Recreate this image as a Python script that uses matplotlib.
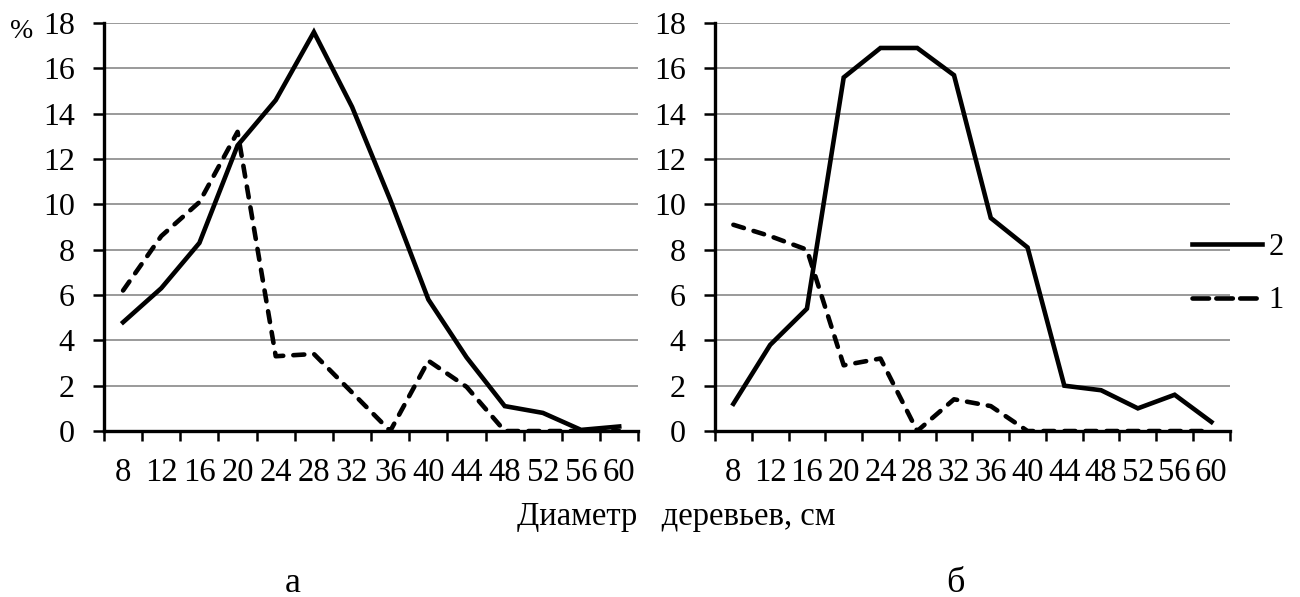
import numpy as np
import matplotlib.pyplot as plt
from matplotlib.lines import Line2D

plt.rcParams['font.family'] = 'serif'
plt.rcParams['font.serif'] = ['Liberation Serif', 'DejaVu Serif']
plt.rcParams['axes.linewidth'] = 2.4

# tree diameter classes, cm
diameters = [8, 12, 16, 20, 24, 28, 32, 36, 40, 44, 48, 52, 56, 60]

# panel a
a_line2 = [4.8, 6.3, 8.3, 12.6, 14.6, 17.6, 14.3, 10.2, 5.8, 3.25, 1.1, 0.8, 0.05, 0.2]
a_line1 = [6.2, 8.6, 10.1, 13.2, 3.3, 3.4, 1.7, 0.0, 3.1, 1.95, 0.0, 0.0, 0.0, 0.0]

# panel б
b_line2 = [1.2, 3.8, 5.4, 15.6, 16.9, 16.9, 15.7, 9.4, 8.1, 2.0, 1.8, 1.0, 1.6, 0.4]
b_line1 = [9.1, 8.6, 8.0, 2.9, 3.2, 0.0, 1.4, 1.1, 0.0, 0.0, 0.0, 0.0, 0.0, 0.0]

y_ticks = [0, 2, 4, 6, 8, 10, 12, 14, 16, 18]

fig = plt.figure(figsize=(13, 5.97), dpi=100)
ax_a = fig.add_axes([0.080, 0.278, 0.411, 0.6834])
ax_b = fig.add_axes([0.550, 0.278, 0.396, 0.6834])

x = np.arange(len(diameters))
lw = 3.3
dash = (2.4, 2.2)

for ax, s2, s1 in [(ax_a, a_line2, a_line1), (ax_b, b_line2, b_line1)]:
    ax.plot(x, s2, color='black', lw=lw, solid_joinstyle='miter', zorder=3)
    ax.plot(x, s1, color='black', lw=lw, linestyle=(0, dash),
            dash_capstyle='round', zorder=3)
    ax.set_xlim(-0.5, len(diameters) - 0.5)
    ax.set_ylim(0, 18)
    ax.set_yticks(y_ticks)
    ax.yaxis.grid(True, color='#9a9a9a', lw=1.4)
    ax.set_axisbelow(True)
    ax.set_xticks(x)
    ax.set_xticklabels([str(d) for d in diameters])
    ax.set_xticks(np.arange(len(diameters) + 1) - 0.5, minor=True)
    ax.tick_params(axis='x', which='major', length=0, pad=19, labelsize=23.5)
    ax.tick_params(axis='x', which='minor', length=7, width=1.8, direction='out')
    ax.tick_params(axis='y', length=8, width=1.8, labelsize=23, pad=13)
    ax.spines['top'].set_visible(False)
    ax.spines['right'].set_visible(False)

fig.text(22 / 1300, 1 - 32 / 597, '%', fontsize=20, ha='center', va='center')
fig.text(676 / 1300, 1 - 517 / 597, 'Диаметр   деревьев, см', fontsize=23.5, ha='center', va='center')
fig.text(293 / 1300, 1 - 583 / 597, 'а', fontsize=26, ha='center', va='center')
fig.text(955 / 1300, 1 - 583 / 597, 'б', fontsize=26, ha='center', va='center')

handles = [Line2D([], [], color='black', lw=lw),
           Line2D([], [], color='black', lw=lw, linestyle=(0, (3.6, 1.6)), dash_capstyle='round')]
fig.legend(handles, ['2', '1'], loc='center left',
           bbox_to_anchor=(1192 / 1300, 1 - 274 / 597), frameon=False,
           fontsize=22, handlelength=2.3, handletextpad=0.2,
           labelspacing=0.8, borderpad=0, borderaxespad=0)

fig.savefig('out.png', dpi=100, facecolor='white')
